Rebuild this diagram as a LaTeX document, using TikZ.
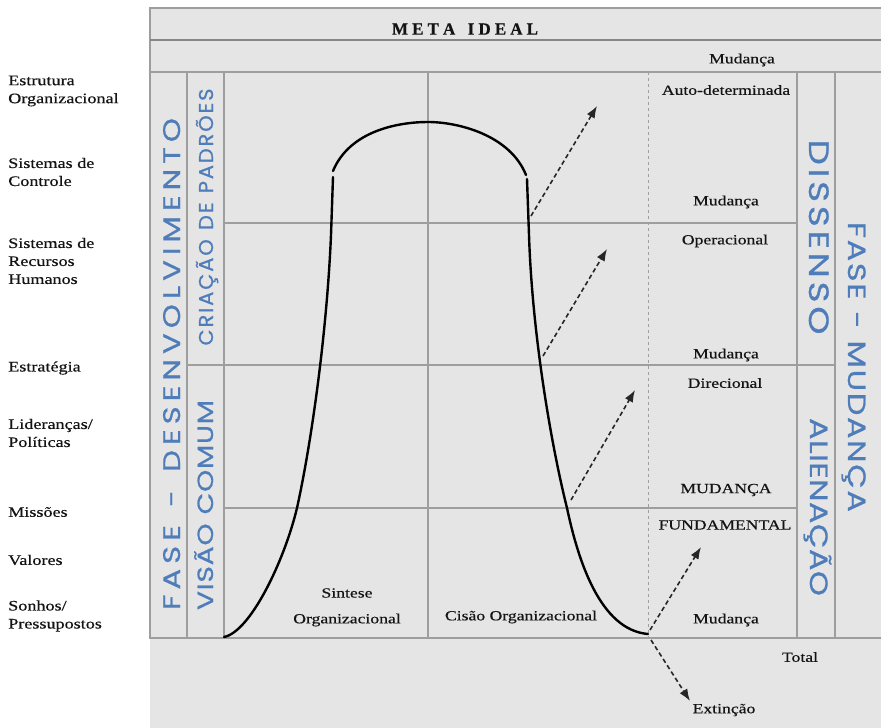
\documentclass[tikz,border=0pt]{standalone}
\usepackage{fontspec}
\setmainfont{Liberation Serif}[FakeBold=0.4]
\newfontfamily\phasefont{Poppins}[FakeStretch=1.28, FakeBold=0.8]
\newfontfamily\narrowphasefont{Poppins}[FakeStretch=1.05, FakeBold=0.8]
\usetikzlibrary{arrows.meta}

\definecolor{panel}{RGB}{229,229,229}
\definecolor{rule}{RGB}{158,158,158}
\definecolor{phase}{RGB}{79,125,186}
\definecolor{ink}{RGB}{20,20,20}

% Set the letters of #2 in a box of width #1, spreading them evenly.
\ExplSyntaxOn
\NewDocumentCommand\spreadto{mm}
  {
    \hbox_to_wd:nn {#1}
      {
        \bool_set_false:N \l_tmpa_bool
        \tl_map_inline:nn {#2}
          {
            \bool_if:NT \l_tmpa_bool { \hfil }
            \bool_set_true:N \l_tmpa_bool
            ##1
          }
      }
  }
\ExplSyntaxOff

\begin{document}
\begin{tikzpicture}[x=1pt,y=-1pt,
  grid/.style={draw=rule, line width=1.3pt},
  guide/.style={draw=rule, line width=1pt, dash pattern=on 3pt off 3pt},
  curve/.style={draw=black, line width=2.4pt, line cap=round},
  leap/.style={draw=black!85, line width=1.6pt, dash pattern=on 4.5pt off 3pt,
    -{Latex[length=12pt,width=9pt]}},
  side/.style={font=\fontsize{14.5}{18}\selectfont, xscale=1.25, align=left,
    anchor=west, inner sep=0pt, text=ink},
  cell/.style={font=\fontsize{14}{16}\selectfont, xscale=1.26, inner sep=0pt, text=ink},
  phasetxt/.style={text=phase, inner sep=0pt, anchor=base}]

\useasboundingbox (0,0) rectangle (881,728);
\fill[white] (0,0) rectangle (881,728);
\fill[panel] (150,8) rectangle (881,728);

% frame and grid
\draw[grid] (881,8) -- (150,8) -- (150,638) -- (881,638);
\draw[grid, draw=rule!85!black] (150,40) -- (881,40);
\draw[grid] (150,72) -- (881,72);
\draw[grid] (187,72) -- (187,638);
\draw[grid] (224,72) -- (224,638);
\draw[grid] (428,72) -- (428,638);
\draw[grid] (797,72) -- (797,638);
\draw[grid] (835,72) -- (835,638);
\draw[grid] (224,223) -- (797,223);
\draw[grid] (187,365) -- (835,365);
\draw[grid] (224,508) -- (797,508);
\draw[guide] (648,72) -- (648,638);

% header
\node[inner sep=0pt, text=ink, font=\bfseries\fontsize{17}{17}\selectfont] (meta) at (465,29)
  {\spreadto{146pt}{META{ }IDEAL}};

% left labels
\node[side] (l1) at (8,91) {Estrutura\\Organizacional};
\node[side] (l2) at (8,172) {Sistemas de\\Controle};
\node[side] (l3) at (8,261) {Sistemas de\\Recursos\\Humanos};
\node[side] (l4) at (8,368) {Estratégia};
\node[side] (l5) at (8,433) {Lideranças/\\Políticas};
\node[side] (l6) at (8,512) {Missões};
\node[side] (l7) at (8,560) {Valores};
\node[side] (l8) at (8,616) {Sonhos/\\Pressupostos};

% phase columns
\node[phasetxt, rotate=90, font=\phasefont\fontsize{24}{24}\selectfont] (devphase) at (180,364)
  {\spreadto{492pt}{FASE{ }-{ }DESENVOLVIMENTO}};
\node[phasetxt, rotate=90, font=\phasefont\fontsize{22}{22}\selectfont] (vision) at (213,505)
  {\spreadto{210pt}{VISÃO{ }COMUM}};
\node[phasetxt, rotate=90, font=\narrowphasefont\fontsize{20}{20}\selectfont] (patterns) at (213,217)
  {\spreadto{257pt}{CRIAÇÃO{ }DE{ }PADRÕES}};
\node[phasetxt, rotate=-90, font=\phasefont\fontsize{28}{28}\selectfont] (dissent) at (809,237)
  {\spreadto{195pt}{DISSENSO}};
\node[phasetxt, rotate=-90, font=\phasefont\fontsize{25}{25}\selectfont] (alien) at (810,507)
  {\spreadto{178pt}{ALIENAÇÃO}};
\node[phasetxt, rotate=-90, font=\phasefont\fontsize{25}{25}\selectfont] (chgphase) at (848,367)
  {\spreadto{290pt}{FASE{ }-{ }MUDANÇA}};

% change labels
\node[cell] (c0) at (742,60) {Mudança};
\node[cell] (c1) at (726,90) {Auto-determinada};
\node[cell] (c2) at (726,202) {Mudança};
\node[cell] (c3) at (725,241) {Operacional};
\node[cell] (c4) at (726,355) {Mudança};
\node[cell] (c5) at (725,383) {Direcional};
\node[cell] (c6) at (726,490) {MUDANÇA};
\node[cell] (c7) at (725,525) {FUNDAMENTAL};
\node[cell] (c8) at (726,620) {Mudança};
\node[cell] (total) at (800,657) {Total};
\node[cell] (ext) at (724,710) {Extinção};
\node[cell] (syn1) at (347,593) {Sintese};
\node[cell] (syn2) at (347,620) {Organizacional};
\node[cell] (split) at (521,617) {Cisão Organizacional};

% life curve
\draw[curve] (224,637) .. controls (250,632) and (284,562) .. (297,508)
  .. controls (312,440) and (327,330) .. (331,235) -- (333,177);
\draw[curve] (333,171) .. controls (350,130) and (400,122) .. (428,122)
  .. controls (458,122) and (510,135) .. (526,175);
\draw[curve] (527,179) -- (529,235) .. controls (532,330) and (550,440) .. (567,508)
  .. controls (578,560) and (600,630) .. (648,634);

% change jumps
\coordinate (s1) at (531,216); \coordinate (t1) at (597,106);
\coordinate (s2) at (543,356); \coordinate (t2) at (607,249);
\coordinate (s3) at (571,500); \coordinate (t3) at (635,390);
\coordinate (s4) at (650,630); \coordinate (t4) at (701,547);
\coordinate (s5) at (651,640); \coordinate (t5) at (690,701);
\draw[leap] (s1) -- (t1);
\draw[leap] (s2) -- (t2);
\draw[leap] (s3) -- (t3);
\draw[leap] (s4) -- (t4);
\draw[leap] (s5) -- (t5);
\end{tikzpicture}
\end{document}
